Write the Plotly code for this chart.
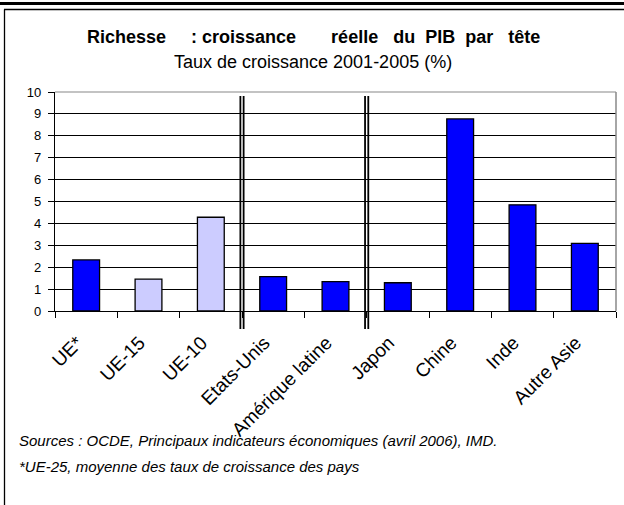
import plotly.graph_objects as go

categories = ["UE*", "UE-15", "UE-10", "Etats-Unis", "Amérique latine", "Japon", "Chine", "Inde", "Autre Asie"]
values = [2.33, 1.46, 4.28, 1.57, 1.34, 1.29, 8.77, 4.85, 3.09]
is_eu_sub = [False, True, True, False, False, False, False, False, False]
group_breaks_after = [2, 4]  # separators after these category indices
y_ticks = list(range(0, 11))

W, H = 624, 505
L, R, T, B = 55, 8, 92, 194
pw, ph = W - L - R, H - T - B

def px(x):
    return (x - L) / pw

def py(y):
    return (H - B - y) / ph

colors = ["#CCCCFF" if s else "#0000FF" for s in is_eu_sub]

fig = go.Figure(go.Bar(
    x=list(range(len(categories))), y=values,
    marker=dict(color=colors, line=dict(color="black", width=1.3)),
    width=0.43,
))

shapes = []
# separators (double lines)
for b in group_breaks_after:
    for off in (-0.026, 0.026):
        shapes.append(dict(type="line", xref="x", yref="paper", x0=b + 0.5 + off, x1=b + 0.5 + off,
                           y0=py(329), y1=py(96), line=dict(color="black", width=1.8)))
# plot border top/right gray
shapes.append(dict(type="line", xref="paper", yref="paper", x0=0, x1=1, y0=1, y1=1,
                   line=dict(color="#888888", width=1.2), layer="below"))
shapes.append(dict(type="line", xref="paper", yref="paper", x0=1, x1=1, y0=0, y1=1,
                   line=dict(color="#888888", width=1.5)))
# outer frame
shapes.append(dict(type="line", xref="paper", yref="paper", x0=px(0), x1=px(W), y0=py(3.5), y1=py(3.5),
                   line=dict(color="black", width=3)))
shapes.append(dict(type="line", xref="paper", yref="paper", x0=px(4), x1=px(W), y0=py(9.5), y1=py(9.5),
                   line=dict(color="black", width=1.3)))
shapes.append(dict(type="line", xref="paper", yref="paper", x0=px(4.5), x1=px(4.5), y0=py(9.5), y1=py(H),
                   line=dict(color="black", width=1.3)))

annotations = [
    dict(text="<b>Richesse\u00a0\u00a0\u00a0\u00a0\u00a0: croissance\u00a0\u00a0\u00a0\u00a0\u00a0\u00a0\u00a0réelle\u00a0\u00a0\u00a0du\u00a0\u00a0PIB\u00a0\u00a0par\u00a0\u00a0\u00a0tête</b>",
         x=px(313), y=py(37), xref="paper", yref="paper", showarrow=False,
         font=dict(family="Liberation Sans, Arial", size=18, color="black"),
         xanchor="center", yanchor="middle"),
    dict(text="Taux de croissance 2001-2005 (%)",
         x=px(313), y=py(62), xref="paper", yref="paper", showarrow=False,
         font=dict(family="Liberation Sans, Arial", size=18, color="black"),
         xanchor="center", yanchor="middle"),
    dict(text="<i>Sources : OCDE, Principaux indicateurs économiques (avril 2006), IMD.</i>",
         x=px(17), y=py(441), xref="paper", yref="paper", showarrow=False,
         font=dict(family="Liberation Sans, Arial", size=15, color="black"),
         xanchor="left", yanchor="middle"),
    dict(text="<i>*UE-25, moyenne des taux de croissance des pays</i>",
         x=px(17), y=py(466), xref="paper", yref="paper", showarrow=False,
         font=dict(family="Liberation Sans, Arial", size=15, color="black"),
         xanchor="left", yanchor="middle"),
]

fig.update_layout(
    width=W, height=H,
    margin=dict(l=L, r=R, t=T, b=B, pad=0),
    paper_bgcolor="white", plot_bgcolor="white",
    showlegend=False,
    shapes=shapes, annotations=annotations,
    bargap=0.57,
    xaxis=dict(
        tickmode="array", tickvals=list(range(len(categories))), ticktext=categories,
        range=[-0.5, len(categories) - 0.5],
        tickangle=-45, ticks="", showgrid=False,
        showline=True, linecolor="black", linewidth=1.3,
        tickfont=dict(family="Liberation Sans, Arial", size=19, color="black"),
        minor=dict(tickmode="array", tickvals=[i - 0.5 for i in range(len(categories) + 1)],
                   ticks="outside", ticklen=6, tickcolor="black", tickwidth=1.3, showgrid=False),
        ticklabelstandoff=12,
        ticklabelshift=-9,
        fixedrange=True,
    ),
    yaxis=dict(
        range=[0, 10], tickvals=y_ticks, ticks="outside", ticklen=6, tickcolor="black",
        tickwidth=1.2,
        showgrid=True, gridcolor="black", gridwidth=1,
        showline=True, linecolor="black", linewidth=1.3, zeroline=False,
        tickfont=dict(family="Liberation Sans, Arial", size=13, color="black"),
        ticklabelstandoff=4,
        fixedrange=True,
    ),
)

fig.write_html("out.html", config={"displayModeBar": False},
               post_script="document.body.style.margin='0px';document.body.style.overflow='hidden';")
